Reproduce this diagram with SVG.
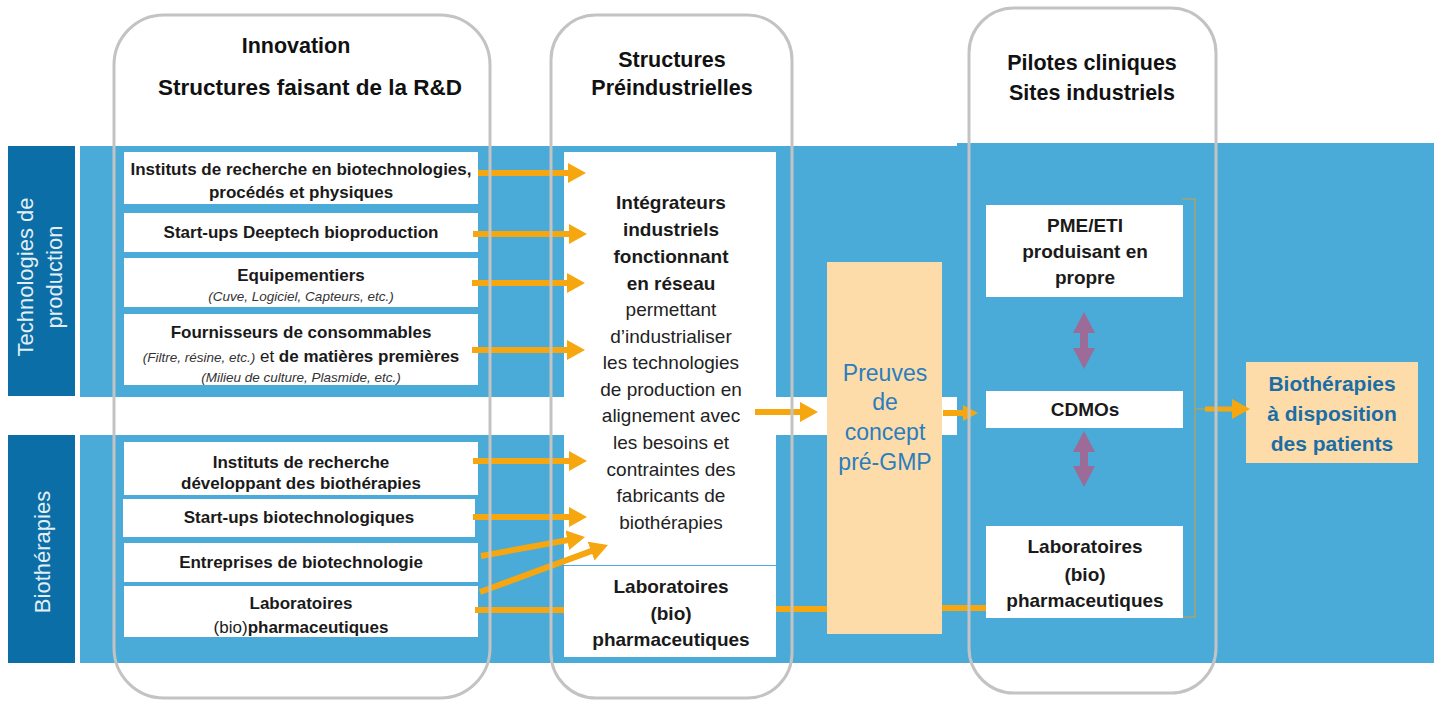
<svg xmlns="http://www.w3.org/2000/svg" width="1438" height="702" viewBox="0 0 1438 702">
<style>
text{font-family:"Liberation Sans",Arial,sans-serif;}
.hd{font-size:21.5px;font-weight:bold;fill:#111;text-anchor:middle;}
.bx{font-size:17px;font-weight:bold;fill:#1a1a1a;text-anchor:middle;}
.it{font-size:13.5px;font-style:italic;font-weight:normal;fill:#333;}
.rg{font-weight:normal;}
.ig{font-size:19px;fill:#222;text-anchor:middle;}
.igb{font-size:19px;font-weight:bold;fill:#1a1a1a;text-anchor:middle;}
.c3{font-size:19px;font-weight:bold;fill:#1a1a1a;text-anchor:middle;}
.pv{font-size:23px;fill:#2a7dbf;text-anchor:middle;}
.bt{font-size:21px;font-weight:bold;fill:#1b6da6;text-anchor:middle;}
.lb{font-size:22px;fill:#e3eef7;text-anchor:middle;}
.band{fill:#4aaad8;}
.lbl{fill:#0c6ea6;}
.wb{fill:#ffffff;}
.col{fill:none;stroke:#c3c3c3;stroke-width:3;}
.or{stroke:#f6a70f;stroke-width:6;fill:none;}
.pu{fill:#9c6b98;}
</style>
<defs>
<marker id="ah" markerUnits="userSpaceOnUse" markerWidth="18" markerHeight="20" refX="8" refY="10" orient="auto"><path d="M0,0 L18,10 L0,20 Z" fill="#f6a70f"/></marker>
<marker id="ahs" markerUnits="userSpaceOnUse" markerWidth="15" markerHeight="16" refX="7" refY="8" orient="auto"><path d="M0,0 L15,8 L0,16 Z" fill="#f6a70f"/></marker>
</defs>
<rect width="1438" height="702" fill="#ffffff"/>

<g id="bands">
<rect class="band" x="80" y="146" width="877" height="251"/>
<rect class="band" x="80" y="435" width="1354" height="228"/>
<rect class="band" x="957" y="143" width="477" height="520"/>
</g>

<g id="label-tech">
<rect class="lbl" x="8" y="146" width="67" height="250"/>
<text class="lb" transform="translate(33,277) rotate(-90)">Technologies de</text>
<text class="lb" transform="translate(62,277) rotate(-90)">production</text>
</g>
<g id="label-bio">
<rect class="lbl" x="8" y="435" width="67" height="228"/>
<text class="lb" transform="translate(50,552) rotate(-90)">Biothérapies</text>
</g>

<g id="header-innovation">
<text class="hd" x="296" y="53">Innovation</text>
<text class="hd" x="310" y="95" style="font-size:22.5px">Structures faisant de la R&amp;D</text>
</g>
<g id="header-preindustrielles">
<text class="hd" x="672" y="67">Structures</text>
<text class="hd" x="672" y="95">Préindustrielles</text>
</g>
<g id="header-pilotes">
<text class="hd" x="1092" y="70">Pilotes cliniques</text>
<text class="hd" x="1092" y="100">Sites industriels</text>
</g>

<g id="n-instituts-biotech">
<rect class="wb" x="124" y="152" width="354" height="52"/>
<text class="bx" x="301" y="175">Instituts de recherche en biotechnologies,</text>
<text class="bx" x="301" y="198">procédés et physiques</text>
</g>
<g id="n-startups-deeptech">
<rect class="wb" x="124" y="213" width="354" height="39"/>
<text class="bx" x="301" y="238">Start-ups Deeptech bioproduction</text>
</g>
<g id="n-equipementiers">
<rect class="wb" x="124" y="258" width="354" height="49"/>
<text class="bx" x="301" y="281">Equipementiers</text>
<text class="it" x="301" y="301" text-anchor="middle">(Cuve, Logiciel, Capteurs, etc.)</text>
</g>
<g id="n-fournisseurs">
<rect class="wb" x="124" y="314" width="354" height="71"/>
<text class="bx" x="301" y="338">Fournisseurs de consommables</text>
<text class="bx" x="301" y="362"><tspan class="it">(Filtre, résine, etc.)</tspan><tspan class="rg"> et </tspan><tspan>de matières premières</tspan></text>
<text class="it" x="301" y="382" text-anchor="middle">(Milieu de culture, Plasmide, etc.)</text>
</g>
<g id="n-instituts-bio">
<rect class="wb" x="124" y="442" width="354" height="53"/>
<text class="bx" x="301" y="468">Instituts de recherche</text>
<text class="bx" x="301" y="489">développant des biothérapies</text>
</g>
<g id="n-startups-bio">
<rect class="wb" x="123" y="499" width="352" height="38"/>
<text class="bx" x="299" y="523">Start-ups biotechnologiques</text>
</g>
<g id="n-entreprises">
<rect class="wb" x="124" y="543" width="354" height="39"/>
<text class="bx" x="301" y="568">Entreprises de biotechnologie</text>
</g>
<g id="n-labo-1">
<rect class="wb" x="124" y="586" width="354" height="51"/>
<text class="bx" x="301" y="609">Laboratoires</text>
<text class="bx" x="301" y="633"><tspan class="rg">(bio)</tspan>pharmaceutiques</text>
</g>

<g id="n-integrateurs">
<rect class="wb" x="564" y="152" width="212" height="413"/>
<text class="igb" x="671" y="209">Intégrateurs</text>
<text class="igb" x="671" y="236">industriels</text>
<text class="igb" x="671" y="263">fonctionnant</text>
<text class="igb" x="671" y="290">en réseau</text>
<text class="ig" x="671" y="316">permettant</text>
<text class="ig" x="671" y="343">d’industrialiser</text>
<text class="ig" x="671" y="369">les technologies</text>
<text class="ig" x="671" y="396">de production en</text>
<text class="ig" x="671" y="422">alignement avec</text>
<text class="ig" x="671" y="449">les besoins et</text>
<text class="ig" x="671" y="476">contraintes des</text>
<text class="ig" x="671" y="502">fabricants de</text>
<text class="ig" x="671" y="529">biothérapies</text>
</g>
<g id="n-labo-2">
<rect class="wb" x="564" y="566" width="212" height="91"/>
<text class="igb" x="671" y="593">Laboratoires</text>
<text class="igb" x="671" y="620">(bio)</text>
<text class="igb" x="671" y="646">pharmaceutiques</text>
</g>

<g id="n-preuves">
<rect x="827" y="262" width="115" height="372" fill="#fddcaa"/>
<text class="pv" x="885" y="381">Preuves</text>
<text class="pv" x="885" y="410">de</text>
<text class="pv" x="885" y="440">concept</text>
<text class="pv" x="885" y="470">pré-GMP</text>
</g>

<g id="n-pme">
<rect class="wb" x="986" y="205" width="197" height="92"/>
<text class="c3" x="1085" y="232">PME/ETI</text>
<text class="c3" x="1085" y="258">produisant en</text>
<text class="c3" x="1085" y="284">propre</text>
</g>
<g id="n-cdmos">
<rect class="wb" x="986" y="391" width="197" height="37"/>
<text class="c3" x="1085" y="416">CDMOs</text>
</g>
<g id="n-labo-3">
<rect class="wb" x="986" y="526" width="197" height="92"/>
<text class="c3" x="1085" y="553">Laboratoires</text>
<text class="c3" x="1085" y="581">(bio)</text>
<text class="c3" x="1085" y="607">pharmaceutiques</text>
</g>

<g id="n-biotherapies-patients">
<rect x="1246" y="362" width="172" height="101" fill="#fddcaa"/>
<text class="bt" x="1332" y="391">Biothérapies</text>
<text class="bt" x="1332" y="421">à disposition</text>
<text class="bt" x="1332" y="451">des patients</text>
</g>

<g id="connectors">
<line class="or" x1="478" y1="173" x2="576" y2="173" marker-end="url(#ah)"/>
<line class="or" x1="473" y1="234" x2="577" y2="234" marker-end="url(#ah)"/>
<line class="or" x1="472" y1="283" x2="575" y2="283" marker-end="url(#ah)"/>
<line class="or" x1="472" y1="350" x2="575" y2="350" marker-end="url(#ah)"/>
<line class="or" x1="473" y1="461" x2="577" y2="461" marker-end="url(#ah)"/>
<line class="or" x1="473" y1="517" x2="577" y2="517" marker-end="url(#ah)"/>
<line class="or" x1="481" y1="556" x2="575.2" y2="538.8" marker-end="url(#ah)"/>
<line class="or" x1="480" y1="592" x2="598.6" y2="548.4" marker-end="url(#ah)"/>
<line class="or" x1="475" y1="610" x2="564" y2="610"/>
<line class="or" x1="776" y1="609" x2="827" y2="609"/>
<line class="or" x1="942" y1="608" x2="986" y2="608"/>
<line class="or" x1="755" y1="412" x2="808" y2="412" marker-end="url(#ah)"/>
<line class="or" x1="943" y1="413" x2="970" y2="413" marker-end="url(#ahs)"/>
<path d="M1182,199 H1195 V617 H1183 M1195,409 H1206" fill="none" stroke="#a3a56c" stroke-width="1.5"/>
<line x1="1205" y1="409" x2="1240" y2="409" stroke="#f6a70f" stroke-width="5" marker-end="url(#ah)"/>
<path class="pu" d="M1084,312 L1095,333 L1088,333 L1088,348 L1095,348 L1084,369 L1073,348 L1080,348 L1080,333 L1073,333 Z"/>
<path class="pu" d="M1084,431 L1095,452 L1088,452 L1088,466 L1095,466 L1084,487 L1073,466 L1080,466 L1080,452 L1073,452 Z"/>
</g>

<g id="columns">
<rect class="col" x="114" y="15" width="376" height="683" rx="50" ry="50"/>
<rect class="col" x="551" y="15" width="241" height="683" rx="45" ry="45"/>
<rect class="col" x="969" y="8" width="247" height="685" rx="45" ry="45"/>
</g>
</svg>
